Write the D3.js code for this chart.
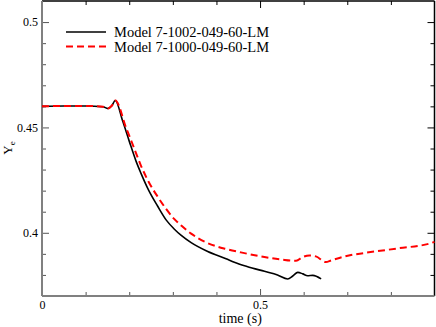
<!DOCTYPE html>
<html>
<head>
<meta charset="utf-8">
<script src="https://cdn.jsdelivr.net/npm/d3@7"></script>
<style>
  body { margin: 0; background: #fff; }
  svg { display: block; font-family: "Liberation Serif", "DejaVu Serif", serif; }
</style>
</head>
<body>
<div id="chart"></div>
<script>
var width = 436, height = 327;
var margin = { top: 1, right: 1.5, bottom: 31, left: 42 };

// series: [time (s), Ye]
var seriesNames = ["Model 7-1002-049-60-LM", "Model 7-1000-049-60-LM"];

var black_t = [0, 0.05, 0.10, 0.14, 0.151, 0.160, 0.168, 0.185, 0.200, 0.2156, 0.227, 0.245, 0.265, 0.285, 0.303, 0.320, 0.342, 0.380, 0.422, 0.441, 0.47, 0.51, 0.54, 0.5635, 0.575, 0.5865, 0.598, 0.609, 0.621, 0.64];
var black_v = [0.4600, 0.4602, 0.4602, 0.4598, 0.4590, 0.4603, 0.4628, 0.4530, 0.4435, 0.4340, 0.4282, 0.4200, 0.4127, 0.4060, 0.4018, 0.3986, 0.3953, 0.3911, 0.3877, 0.3860, 0.3840, 0.3817, 0.3800, 0.3781, 0.3795, 0.3812, 0.3805, 0.3796, 0.3798, 0.3781];

var red_t = [0, 0.05, 0.10, 0.14, 0.151, 0.160, 0.168, 0.1927, 0.208, 0.227, 0.245, 0.265, 0.285, 0.303, 0.320, 0.342, 0.380, 0.422, 0.456, 0.51, 0.55, 0.5826, 0.598, 0.613, 0.628, 0.651, 0.663, 0.701, 0.739, 0.816, 0.892, 0.9];
var red_v = [0.4600, 0.4602, 0.4602, 0.4598, 0.4590, 0.4603, 0.4628, 0.4499, 0.4419, 0.4318, 0.4240, 0.4172, 0.4112, 0.4066, 0.4033, 0.3996, 0.3951, 0.3923, 0.3907, 0.3885, 0.3873, 0.3867, 0.3885, 0.3892, 0.3888, 0.3861, 0.3869, 0.3891, 0.3904, 0.3926, 0.3951, 0.3957];

var xMajor = [0, 0.5], xMinor = [0.1, 0.2, 0.3, 0.4, 0.6, 0.7, 0.8];
var yMajor = [0.4, 0.45, 0.5], yMinor = [0.38, 0.39, 0.41, 0.42, 0.43, 0.44, 0.46, 0.47, 0.48, 0.49];
var xTickLabels = ["0", "0.5"], yTickLabels = ["0.4", "0.45", "0.5"];

var x = d3.scaleLinear().domain([0, 0.9]).range([margin.left, width - margin.right]);
var y = d3.scaleLinear().domain([0.37, 0.51]).range([height - margin.bottom, margin.top]);

var svg = d3.select("#chart").append("svg")
    .attr("width", width)
    .attr("height", height);

// top and right frame with inward ticks
svg.append("g")
    .attr("transform", `translate(0,${margin.top})`)
    .call(d3.axisTop(x).tickValues(xMajor).tickSize(-7).tickFormat(""))
    .call(g => g.select(".domain").remove())
    .call(g => g.selectAll("line").attr("stroke", "#000"));
svg.append("g")
    .attr("transform", `translate(0,${margin.top})`)
    .call(d3.axisTop(x).tickValues(xMinor).tickSize(-4).tickFormat(""))
    .call(g => g.select(".domain").remove())
    .call(g => g.selectAll("line").attr("stroke", "#000"));
svg.append("g")
    .attr("transform", `translate(${width - margin.right},0)`)
    .call(d3.axisRight(y).tickValues(yMajor).tickSize(-7).tickFormat(""))
    .call(g => g.select(".domain").remove())
    .call(g => g.selectAll("line").attr("stroke", "#000"));
svg.append("g")
    .attr("transform", `translate(${width - margin.right},0)`)
    .call(d3.axisRight(y).tickValues(yMinor).tickSize(-4).tickFormat(""))
    .call(g => g.select(".domain").remove())
    .call(g => g.selectAll("line").attr("stroke", "#000"));

svg.append("line")
    .attr("x1", margin.left).attr("x2", width - margin.right)
    .attr("y1", margin.top).attr("y2", margin.top)
    .attr("stroke", "#000").attr("stroke-width", 1.5);
svg.append("line")
    .attr("x1", width - margin.right).attr("x2", width - margin.right)
    .attr("y1", margin.top).attr("y2", height - margin.bottom)
    .attr("stroke", "#000").attr("stroke-width", 1.5);

// bottom axis
svg.append("g")
    .attr("transform", `translate(0,${height - margin.bottom})`)
    .call(d3.axisBottom(x).tickValues(xMinor).tickSize(-4).tickFormat(""))
    .call(g => g.select(".domain").remove())
    .call(g => g.selectAll("line").attr("stroke", "#555"));
svg.append("g")
    .attr("transform", `translate(0,${height - margin.bottom})`)
    .call(d3.axisBottom(x).tickValues(xMajor).tickSize(-7).tickPadding(4)
        .tickFormat((d, i) => xTickLabels[i]))
    .call(g => g.select(".domain").remove())
    .call(g => g.selectAll("line").attr("stroke", "#555"))
    .call(g => g.selectAll("text")
        .attr("fill", "#000")
        .style("font-size", "12px")
        .style("font-family", "Liberation Serif"));

// left axis
svg.append("g")
    .attr("transform", `translate(${margin.left},0)`)
    .call(d3.axisLeft(y).tickValues(yMinor).tickSize(-4).tickFormat(""))
    .call(g => g.select(".domain").remove())
    .call(g => g.selectAll("line").attr("stroke", "#555"));
svg.append("g")
    .attr("transform", `translate(${margin.left},0)`)
    .call(d3.axisLeft(y).tickValues(yMajor).tickSize(-7).tickPadding(4)
        .tickFormat((d, i) => yTickLabels[i]))
    .call(g => g.select(".domain").remove())
    .call(g => g.selectAll("line").attr("stroke", "#555"))
    .call(g => g.selectAll("text")
        .attr("fill", "#000")
        .style("font-size", "12px")
        .style("font-family", "Liberation Serif"));

svg.append("line")
    .attr("x1", margin.left).attr("x2", margin.left)
    .attr("y1", margin.top).attr("y2", height - margin.bottom)
    .attr("stroke", "#808080").attr("stroke-width", 2);
svg.append("line")
    .attr("x1", margin.left).attr("x2", width - margin.right)
    .attr("y1", height - margin.bottom).attr("y2", height - margin.bottom)
    .attr("stroke", "#808080").attr("stroke-width", 2);

// curves
var line = d3.line()
    .x(d => x(d[0]))
    .y(d => y(d[1]))
    .curve(d3.curveMonotoneX);

var blackData = black_t.map((t, i) => [t, black_v[i]]);
var redData = red_t.map((t, i) => [t, red_v[i]]);

svg.append("path")
    .datum(blackData)
    .attr("d", line)
    .attr("fill", "none")
    .attr("stroke", "#000")
    .attr("stroke-width", 1.6);

svg.append("path")
    .datum(redData)
    .attr("d", line)
    .attr("fill", "none")
    .attr("stroke", "#ff0000")
    .attr("stroke-width", 2)
    .attr("stroke-dasharray", "7,4");

// legend
var legend = svg.append("g").attr("transform", "translate(66,32)");
legend.append("line")
    .attr("x1", 0).attr("x2", 40).attr("y1", 0).attr("y2", 0)
    .attr("stroke", "#000").attr("stroke-width", 1.6);
legend.append("line")
    .attr("x1", 0).attr("x2", 40).attr("y1", 14.5).attr("y2", 14.5)
    .attr("stroke", "#ff0000").attr("stroke-width", 2)
    .attr("stroke-dasharray", "7,4");
legend.selectAll("text")
    .data(seriesNames)
    .enter()
    .append("text")
    .attr("x", 48)
    .attr("y", (d, i) => 5 + i * 14.5)
    .style("font-size", "14.5px")
    .text(d => d);

// axis titles
svg.append("text")
    .attr("x", (x(0) + x(0.9)) / 2 + 2)
    .attr("y", 323)
    .attr("text-anchor", "middle")
    .style("font-size", "14px")
    .text("time (s)");

var ylab = svg.append("text")
    .attr("transform", "translate(12,148) rotate(-90)")
    .attr("text-anchor", "middle")
    .style("font-size", "13px");
ylab.append("tspan").text("Y");
ylab.append("tspan")
    .attr("dy", 3)
    .style("font-size", "9px")
    .text("e");
</script>
</body>
</html>
